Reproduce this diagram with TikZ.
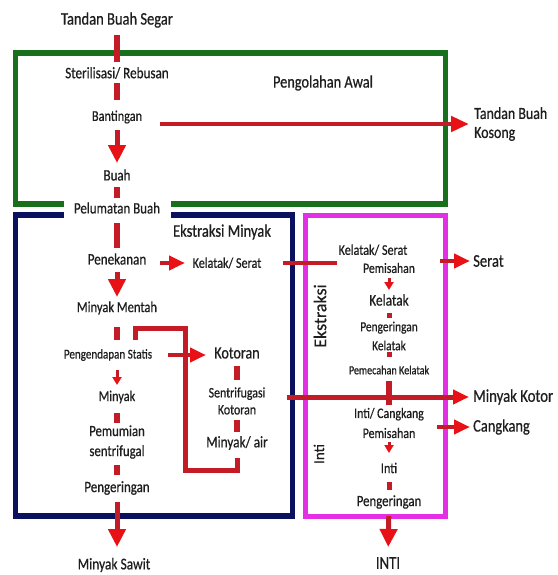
\documentclass[tikz,border=0pt]{standalone}
\usepackage{fontspec}
\setmainfont{Carlito}[FakeStretch=0.82,FakeBold=0.6]
\newfontfamily\rotfont{Carlito}[FakeBold=0.6]
\usetikzlibrary{arrows.meta}
\definecolor{gframe}{RGB}{24,112,28}
\definecolor{nframe}{RGB}{10,18,95}
\definecolor{pframe}{RGB}{228,48,228}
\definecolor{redln}{RGB}{196,28,38}
\definecolor{redhd}{RGB}{232,18,22}
\definecolor{txt}{RGB}{30,30,30}
\begin{document}
\begin{tikzpicture}[x=1pt,y=-1pt,
  lbl/.style={inner sep=1pt, text=txt, align=center, font=\fontsize{#1}{19}\selectfont},
  rotlbl/.style={inner sep=1pt, text=txt, rotate=90, font=\rotfont\fontsize{#1}{20}\selectfont},
  frame/.style={line width=5.5pt},
  seg/.style={draw=redln, line width=5.5pt},
  thinseg/.style={draw=redln, line width=3pt},
  cut/.style 2 args={shorten <=#1pt, shorten >=#2pt},
  bigtip/.style={-{Triangle[length=18pt,width=17pt,color=redhd]}},
  midtip/.style={-{Triangle[length=16pt,width=14pt,color=redhd]}},
  smtip/.style={-{Triangle[length=8pt,width=9pt,color=redhd]}}]
\useasboundingbox (0,0) rectangle (557,575);
\fill[white] (0,0) rectangle (557,575);

% frames
\draw[gframe, frame] (15.5,53) rectangle (445.5,204);
\draw[nframe, frame] (15.5,215) rectangle (292.5,516);
\draw[pframe, frame] (305.5,215.5) rectangle (445.5,516.5);

% nodes: preparation
\node[lbl=17.7] (tbs) at (117,20) {Tandan Buah Segar};
\node[lbl=16] (ster) at (117,73) {Sterilisasi/ Rebusan};
\node[lbl=15] (bant) at (117,117) {Bantingan};
\node[lbl=17.5] (awal) at (323,83) {Pengolahan Awal};
\node[lbl=17, align=left, anchor=west] (tbk) at (473,124) {Tandan Buah\\Kosong};
\node[lbl=15.8] (buah) at (117,175) {Buah};
\node[lbl=15.8, fill=white, minimum width=107pt, minimum height=22pt] (pelu) at (117,208) {Pelumatan Buah};

% nodes: oil extraction
\node[lbl=17.8] (ekm) at (222,232) {Ekstraksi Minyak};
\node[lbl=16] (pene) at (117,259) {Penekanan};
\node[lbl=14.8] (kel1) at (227,263) {Kelatak/ Serat};
\node[lbl=15.3] (mm) at (117,308) {Minyak Mentah};
\node[lbl=13.5] (peng) at (108,355) {Pengendapan Statis};
\node[lbl=17.2] (kot) at (237,353) {Kotoran};
\node[lbl=14.5, font=\fontsize{14.5}{17}\selectfont] (sk) at (237,401) {Sentrifugasi\\Kotoran};
\node[lbl=16.2] (ma) at (237,443) {Minyak/ air};
\node[lbl=15] (myk) at (117,397) {Minyak};
\node[lbl=15.6, font=\fontsize{15.6}{20}\selectfont] (pemu) at (117,442) {Pemumian\\sentrifugal};
\node[lbl=15.8] (peng2) at (117,488) {Pengeringan};
\node[lbl=16.4] (ms) at (114,565) {Minyak Sawit};

% nodes: kernel
\node[rotlbl=18] (eks) at (320,316) {Ekstraksi};
\node[rotlbl=15] (inti) at (319,454) {Inti};
\node[lbl=14.8] (ks) at (373,250) {Kelatak/ Serat};
\node[lbl=14.3] (pm1) at (389,268) {Pemisahan};
\node[lbl=16.3] (kel2) at (389,300) {Kelatak};
\node[lbl=13.9] (pk) at (389,336) {Pengeringan\\Kelatak};
\node[lbl=12.4] (pemk) at (389,370) {Pemecahan Kelatak};
\node[lbl=14.5, font=\fontsize{14.5}{20}\selectfont] (ic) at (389,423) {Inti/ Cangkang\\Pemisahan};
\node[lbl=15] (in2) at (389,468) {Inti};
\node[lbl=15.6] (peng3) at (389,502) {Pengeringan};
\node[lbl=18] (INTI) at (388,563) {INTI};
\node[lbl=17.8, anchor=west] (serat) at (472,261) {Serat};
\node[lbl=18, anchor=west] (mk) at (472,397) {Minyak Kotor};
\node[lbl=17.6, anchor=west] (cang) at (472,427) {Cangkang};

% connectors: preparation
\draw[seg, cut={15}{11}] (tbs.center) -- (ster.center);
\draw[seg, cut={10}{17}] (ster.center) -- (bant.center);
\draw[seg, line width=5pt, bigtip, cut={13}{12}] (bant.center) -- (buah.center);
\draw[seg, cut={12}{10}] (buah.center) -- (pelu.center);
\draw[seg, line width=4.5pt, -{Triangle[length=18pt,width=15pt,color=redhd]}, cut={43}{4}] (bant.center |- tbk.west) -- (tbk.west);

% connectors: oil extraction
\draw[seg, cut={15}{11}] (pelu.center) -- (pene.center);
\draw[seg, line width=4.5pt, midtip, cut={43}{42}] (pene.center |- kel1.center) -- (kel1.center);
\draw[seg, line width=5pt, bigtip, cut={13}{11}] (pene.center) -- (mm.center);
\draw[seg, cut={19}{15}] (mm.center) -- (mm.center |- peng.center);
\coordinate (b1) at (135,340);
\coordinate (b2) at (185,328);
\coordinate (b3) at (185,470);
\draw[seg, line width=5pt, shorten >=7pt] (b1) |- (b2) -- (b3) -| (ma.south);
\draw[seg, line width=4.5pt, midtip, cut={60}{31}] (peng.center) -- (kot.center |- peng.center);
\draw[seg, cut={13}{21}] (kot.center) -- (sk.center);
\draw[seg, cut={19}{11}] (sk.center) -- (ma.center);
\draw[thinseg, smtip, cut={15}{12}] (myk.center |- peng.center) -- (myk.center);
\draw[seg, cut={16}{19}] (myk.center) -- (pemu.center);
\draw[seg, cut={23}{13}] (pemu.center) -- (peng2.center);
\draw[seg, line width=5pt, bigtip, cut={14}{18}] (peng2.center) -- (peng2.center |- ms.center);

% connectors: kernel
\draw[seg, line width=4pt, cut={56}{0}] (kel1.center) -- (kel1.center -| ks.west);
\draw[seg, line width=4.5pt, midtip, cut={51}{2}] (pm1.center |- serat.west) -- (serat.west);
\draw[thinseg, smtip, cut={10}{10}] (pm1.center) -- (kel2.center);
\draw[seg, line width=5pt, cut={13}{18}] (kel2.center) -- (pk.center);
\draw[seg, line width=5pt, cut={16}{13}] (pk.center) -- (pemk.center);
\draw[seg, line width=6pt, cut={11}{18}] (pemk.center) -- (ic.center);
\draw[seg, line width=5pt, midtip, cut={50}{3}] (sk.center |- mk.west) -- (mk.west);
\draw[seg, line width=4.5pt, midtip, cut={48}{2}] (ic.center |- cang.west) -- (cang.west);
\draw[thinseg, smtip, cut={19}{15}] (ic.center) -- (in2.center);
\draw[seg, line width=5pt, cut={14}{12}] (in2.center) -- (peng3.center);
\draw[seg, line width=5pt, bigtip, cut={14}{16}] (peng3.center) -- (INTI.center);
\end{tikzpicture}
\end{document}
